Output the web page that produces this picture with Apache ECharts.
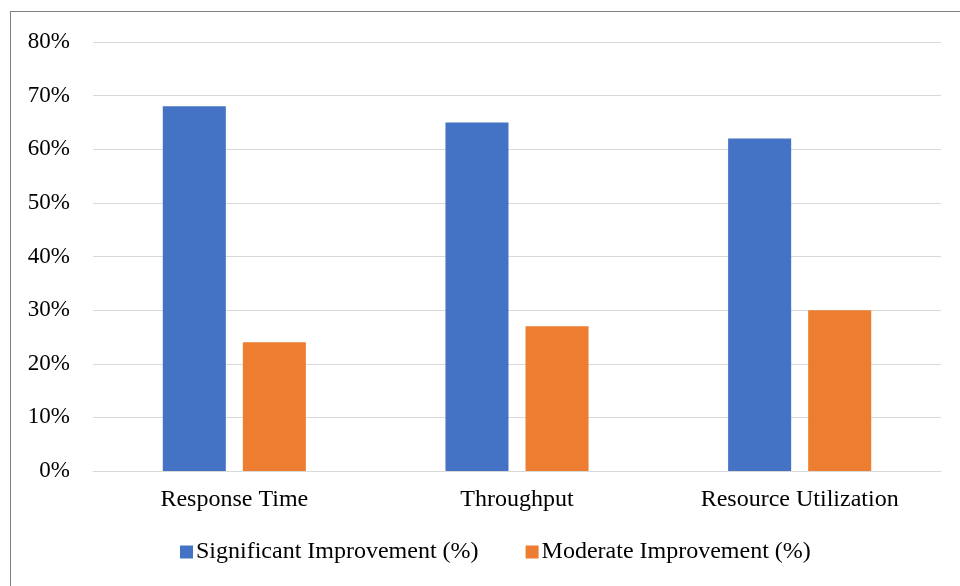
<!DOCTYPE html>
<html>
<head>
<meta charset="utf-8">
<script src="https://cdn.jsdelivr.net/npm/echarts@6/dist/echarts.min.js"></script>
<style>
  html, body { margin: 0; padding: 0; background: #fff; }
  #frame { position: absolute; left: 10px; top: 11px; width: 960px; height: 586px;
           border-left: 1px solid #808080; border-top: 1px solid #808080; }
  #chart { position: absolute; left: 0; top: 0; width: 960px; height: 586px; }
</style>
</head>
<body>
<div id="frame"></div>
<div id="chart"></div>
<script>
// categories and values
var categories = ['Response Time', 'Throughput', 'Resource Utilization'];
var significant = [68, 65, 62];
var moderate = [24, 27, 30];
var seriesNames = ['Significant Improvement (%)', 'Moderate Improvement (%)'];

var font = 'Liberation Serif, Times New Roman, serif';
var chart = echarts.init(document.getElementById('chart'));
var option = {
    animation: false,
    color: ['#4472C4', '#ED7D31'],
    grid: { left: 93, right: 19, top: 42, bottom: 115 },
    legend: {
        top: 535,
        left: 175,
        itemWidth: 13,
        itemHeight: 13,
        itemGap: 47,
        icon: 'rect',
        textStyle: { fontFamily: font, fontSize: 24, color: '#000', padding: [0, 0, 0, -2] },
        data: seriesNames
    },
    xAxis: {
        type: 'category',
        data: categories,
        axisLine: { lineStyle: { color: '#d9d9d9', width: 1 } },
        axisTick: { show: false },
        axisLabel: { fontFamily: font, fontSize: 24, color: '#000', margin: 17 }
    },
    yAxis: {
        type: 'value',
        min: 0,
        max: 80,
        interval: 10,
        axisLine: { show: false },
        axisTick: { show: false },
        splitLine: { lineStyle: { color: '#d9d9d9', width: 1 } },
        axisLabel: { fontFamily: font, fontSize: 23, color: '#000', margin: 23, formatter: '{value}%' }
    },
    series: [
        { name: seriesNames[0], type: 'bar', data: significant, barWidth: '22.3%', barGap: '27%' },
        { name: seriesNames[1], type: 'bar', data: moderate, barWidth: '22.3%' }
    ]
};
chart.setOption(option);
</script>
</body>
</html>
